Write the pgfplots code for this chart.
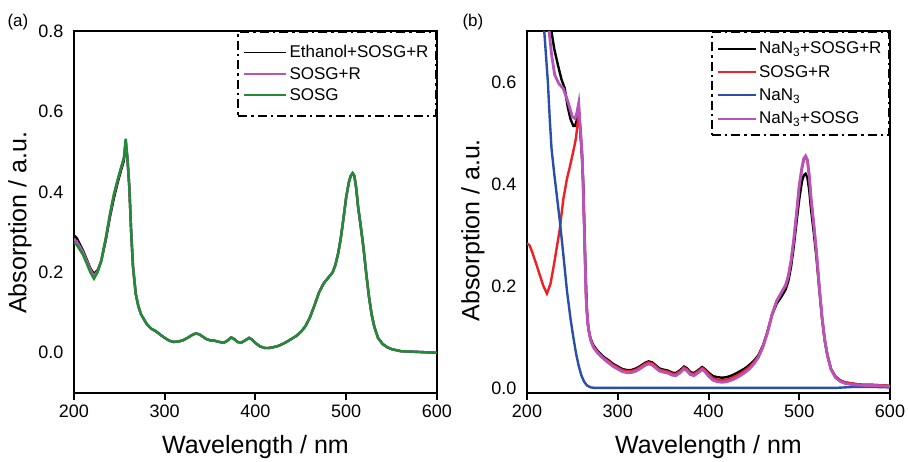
\documentclass[border=0pt]{standalone}
\usepackage{fontspec}
\setmainfont{Liberation Sans}
\usepackage{pgfplots}
\pgfplotsset{compat=1.18}
\usepackage{pgfplotstable}

\definecolor{cgreen}{RGB}{34,139,54}
\definecolor{cmag}{RGB}{184,84,184}
\definecolor{cred}{RGB}{237,32,36}
\definecolor{cblue}{RGB}{40,80,170}

% Panel (a): wavelength, Ethanol+SOSG+R, SOSG+R, SOSG
\pgfplotstableread{
x k m g
200 0.292 0.283 0.275
203 0.285 0.277 0.268
206 0.272 0.266 0.258
210 0.254 0.250 0.243
214 0.232 0.229 0.222
218 0.210 0.207 0.200
222 0.196 0.191 0.184
226 0.205 0.203 0.200
230 0.228 0.228 0.228
235 0.280 0.284 0.285
240 0.342 0.348 0.350
244 0.385 0.392 0.395
248 0.422 0.428 0.430
252 0.455 0.460 0.462
255 0.478 0.484 0.485
257 0.525 0.530 0.532
259 0.480 0.480 0.480
261 0.410 0.410 0.410
263 0.300 0.300 0.300
265 0.215 0.215 0.215
268 0.147 0.147 0.147
271 0.115 0.115 0.115
274 0.095 0.095 0.095
280 0.072 0.072 0.072
285 0.060 0.060 0.060
290 0.054 0.054 0.054
295 0.045 0.045 0.045
300 0.037 0.037 0.037
305 0.030 0.030 0.030
310 0.027 0.027 0.027
315 0.028 0.028 0.028
320 0.031 0.031 0.031
325 0.037 0.037 0.037
330 0.044 0.044 0.044
334 0.048 0.048 0.048
338 0.046 0.046 0.046
342 0.040 0.040 0.040
346 0.034 0.034 0.034
350 0.031 0.031 0.031
355 0.030 0.030 0.030
360 0.027 0.027 0.027
365 0.025 0.025 0.025
369 0.030 0.030 0.030
373 0.038 0.038 0.038
376 0.035 0.035 0.035
380 0.027 0.027 0.027
384 0.025 0.025 0.025
388 0.030 0.030 0.030
393 0.037 0.037 0.037
396 0.033 0.033 0.033
400 0.024 0.024 0.024
405 0.016 0.016 0.016
410 0.012 0.012 0.012
415 0.012 0.012 0.012
420 0.014 0.014 0.014
425 0.017 0.017 0.017
430 0.022 0.022 0.022
435 0.028 0.028 0.028
440 0.035 0.035 0.035
445 0.042 0.042 0.042
450 0.052 0.052 0.052
455 0.066 0.066 0.066
460 0.088 0.088 0.088
465 0.118 0.118 0.118
470 0.150 0.150 0.150
475 0.172 0.172 0.172
480 0.186 0.186 0.186
485 0.200 0.200 0.200
488 0.218 0.218 0.218
491 0.246 0.246 0.246
494 0.285 0.285 0.285
497 0.335 0.335 0.335
500 0.388 0.388 0.388
503 0.425 0.425 0.425
505 0.440 0.440 0.440
507 0.446 0.447 0.447
509 0.438 0.440 0.440
511 0.408 0.410 0.410
513 0.363 0.365 0.365
516 0.313 0.315 0.315
519 0.260 0.262 0.262
522 0.197 0.198 0.198
525 0.140 0.140 0.140
528 0.095 0.095 0.095
531 0.064 0.064 0.064
535 0.037 0.037 0.037
540 0.022 0.022 0.022
545 0.014 0.014 0.014
550 0.009 0.009 0.009
560 0.004 0.004 0.004
570 0.003 0.003 0.003
580 0.002 0.002 0.002
590 0.001 0.001 0.001
600 0.000 0.000 0.000
}\tabA

% Panel (b)
\pgfplotstableread{
x y
226.9 0.700
230 0.665
234 0.634
238 0.605
241.5 0.588
245 0.550
248 0.527
251 0.514
253 0.514
256 0.533
258 0.520
260 0.470
262 0.400
264 0.260
266 0.150
268 0.112
270 0.097
273 0.084
278 0.072
285 0.060
290 0.054
295 0.047
300 0.042
305 0.037
310 0.035
315 0.035
320 0.038
325 0.043
330 0.049
334 0.052
338 0.050
342 0.044
346 0.038
350 0.036
355 0.034
360 0.030
364 0.029
369 0.035
373 0.042
376 0.039
380 0.031
384 0.029
388 0.034
393 0.041
396 0.037
400 0.030
405 0.023
410 0.021
415 0.020
420 0.021
425 0.024
430 0.028
435 0.033
440 0.038
445 0.045
450 0.053
455 0.064
460 0.083
465 0.110
470 0.143
475 0.165
480 0.178
485 0.193
488 0.210
491 0.238
494 0.278
497 0.325
500 0.370
503 0.405
505 0.417
507 0.420
509 0.412
511 0.388
513 0.350
516 0.305
519 0.255
522 0.195
525 0.138
528 0.094
531 0.064
535 0.037
540 0.022
545 0.015
550 0.011
560 0.008
570 0.006
580 0.006
590 0.005
600 0.004
}\tabBk

\pgfplotstableread{
x y
200 0.284
203 0.279
206 0.265
210 0.244
214 0.222
218 0.200
222 0.185
226 0.205
230 0.245
236 0.310
240 0.370
244 0.410
247 0.432
251 0.464
254 0.490
256 0.523
257 0.540
259 0.500
261 0.450
263 0.320
265 0.180
267 0.125
270 0.095
273 0.082
278 0.070
285 0.058
290 0.052
295 0.045
300 0.040
305 0.035
310 0.033
315 0.033
320 0.036
325 0.041
330 0.047
334 0.050
338 0.048
342 0.042
346 0.036
350 0.034
355 0.032
360 0.028
364 0.027
369 0.033
373 0.040
376 0.037
380 0.029
384 0.027
388 0.032
393 0.039
396 0.035
400 0.027
405 0.019
410 0.016
415 0.015
420 0.016
425 0.019
430 0.023
435 0.028
440 0.034
445 0.041
450 0.050
455 0.062
460 0.082
465 0.110
470 0.145
475 0.170
480 0.185
485 0.200
488 0.218
491 0.248
494 0.290
497 0.340
500 0.395
503 0.430
505 0.447
507 0.453
509 0.445
511 0.415
513 0.370
516 0.320
519 0.265
522 0.200
525 0.140
528 0.095
531 0.065
535 0.037
540 0.022
545 0.015
550 0.011
560 0.008
570 0.006
580 0.006
590 0.005
600 0.004
}\tabBr

\pgfplotstableread{
x y
219 0.700
221 0.650
223 0.600
225 0.530
227 0.470
230 0.420
233 0.375
236 0.330
240 0.262
244 0.191
248 0.135
251 0.100
254 0.068
257 0.043
260 0.024
263 0.012
266 0.005
270 0.001
275 0.000
300 0.000
350 0.000
400 0.000
450 0.000
500 0.000
540 0.000
550 0.001
560 0.002
580 0.002
600 0.001
}\tabBb

\pgfplotstableread{
x y
224.3 0.700
227 0.655
230.5 0.614
235 0.597
240 0.587
245 0.562
250 0.532
253 0.528
255 0.540
257 0.559
259 0.505
261 0.450
263 0.320
265 0.180
267 0.125
270 0.094
273 0.080
278 0.068
285 0.056
290 0.049
295 0.042
300 0.037
305 0.032
310 0.030
315 0.030
320 0.033
325 0.038
330 0.044
334 0.047
338 0.045
342 0.039
346 0.033
350 0.031
355 0.029
360 0.025
364 0.024
369 0.030
373 0.037
376 0.034
380 0.026
384 0.024
388 0.029
393 0.036
396 0.032
400 0.023
405 0.015
410 0.012
415 0.011
420 0.012
425 0.015
430 0.019
435 0.024
440 0.030
445 0.037
450 0.047
455 0.060
460 0.080
465 0.108
470 0.143
475 0.170
480 0.186
485 0.202
488 0.220
491 0.250
494 0.292
497 0.342
500 0.397
503 0.433
505 0.450
507 0.455
509 0.447
511 0.417
513 0.372
516 0.322
519 0.266
522 0.201
525 0.141
528 0.095
531 0.064
535 0.036
540 0.020
545 0.013
550 0.009
560 0.006
570 0.005
580 0.005
590 0.004
600 0.003
}\tabBm

\pgfplotsset{
  myaxis/.style={
    scale only axis, width=363pt, height=362pt, anchor=south west,
    xmin=200, xmax=600, xtick={200,300,400,500,600},
    axis line style={line width=2pt},
    tick align=outside, xtick pos=bottom, ytick pos=left,
    major tick length=7pt,
    tick style={line width=2pt, black},
    every y tick/.style={draw=none},
    tick label style={font=\fontsize{18pt}{20pt}\selectfont},
    /pgf/number format/assume math mode=true,
    yticklabel style={/pgf/number format/.cd, fixed, fixed zerofill, precision=1},
    xticklabel style={yshift=-1pt},
    label style={font=\fontsize{25pt}{28pt}\selectfont},
    xlabel={Wavelength / nm}, ylabel={Absorption / a.u.},
    xlabel style={at={(axis description cs:0.5,-0.15)}, anchor=center},
    legend cell align=left,
    legend style={at={(1,1)}, anchor=north east, draw=black, line width=2pt,
      dash pattern=on 9pt off 4pt on 2.5pt off 4pt, fill=none,
      font=\fontsize{17pt}{19pt}\selectfont,
      nodes={inner xsep=2.5pt, inner ysep=2pt}},
  }
}

\begin{document}
\begin{tikzpicture}
\useasboundingbox (0pt,0pt) rectangle (908pt,461pt);

\begin{axis}[myaxis, at={(74pt,68pt)},
  ymin=-0.1, ymax=0.8, ytick={0,0.2,0.4,0.6,0.8},
  ylabel style={at={(axis description cs:-0.149,0.47)}, anchor=center},
  legend style={inner xsep=5pt, inner ysep=11.5pt, row sep=4pt},
  legend image code/.code={\draw[#1, line width=1.8pt, solid] (0pt,0pt) -- (42pt,0pt);}]
\addplot[black, line width=2.4pt] table[x=x, y=k] {\tabA};
\addlegendentry{Ethanol+SOSG+R}
\addplot[cmag, line width=2.4pt] table[x=x, y=m] {\tabA};
\addlegendentry{SOSG+R}
\addplot[cgreen, line width=2.4pt] table[x=x, y=g] {\tabA};
\addlegendentry{SOSG}
\end{axis}

\begin{axis}[myaxis, at={(527pt,68pt)},
  ymin=-0.01, ymax=0.7, ytick={0,0.2,0.4,0.6},
  ylabel style={at={(axis description cs:-0.149,0.45)}, anchor=center},
  legend style={inner xsep=5pt, inner ysep=8pt, row sep=6pt},
  legend image code/.code={\draw[#1, line width=1.8pt, solid] (0pt,0pt) -- (38pt,0pt);}]
\addplot[black, line width=2.4pt] table {\tabBk};
\addlegendentry{NaN\textsubscript{3}+SOSG+R}
\addplot[cred, line width=2.4pt] table {\tabBr};
\addlegendentry{SOSG+R}
\addplot[cblue, line width=2.4pt] table {\tabBb};
\addlegendentry{NaN\textsubscript{3}}
\addplot[cmag, line width=2.8pt] table {\tabBm};
\addlegendentry{NaN\textsubscript{3}+SOSG}
\end{axis}

\node[anchor=west, font=\fontsize{17pt}{19pt}\selectfont] at (4pt,439pt) {(a)};
\node[anchor=west, font=\fontsize{17pt}{19pt}\selectfont] at (459pt,439pt) {(b)};
\end{tikzpicture}
\end{document}
